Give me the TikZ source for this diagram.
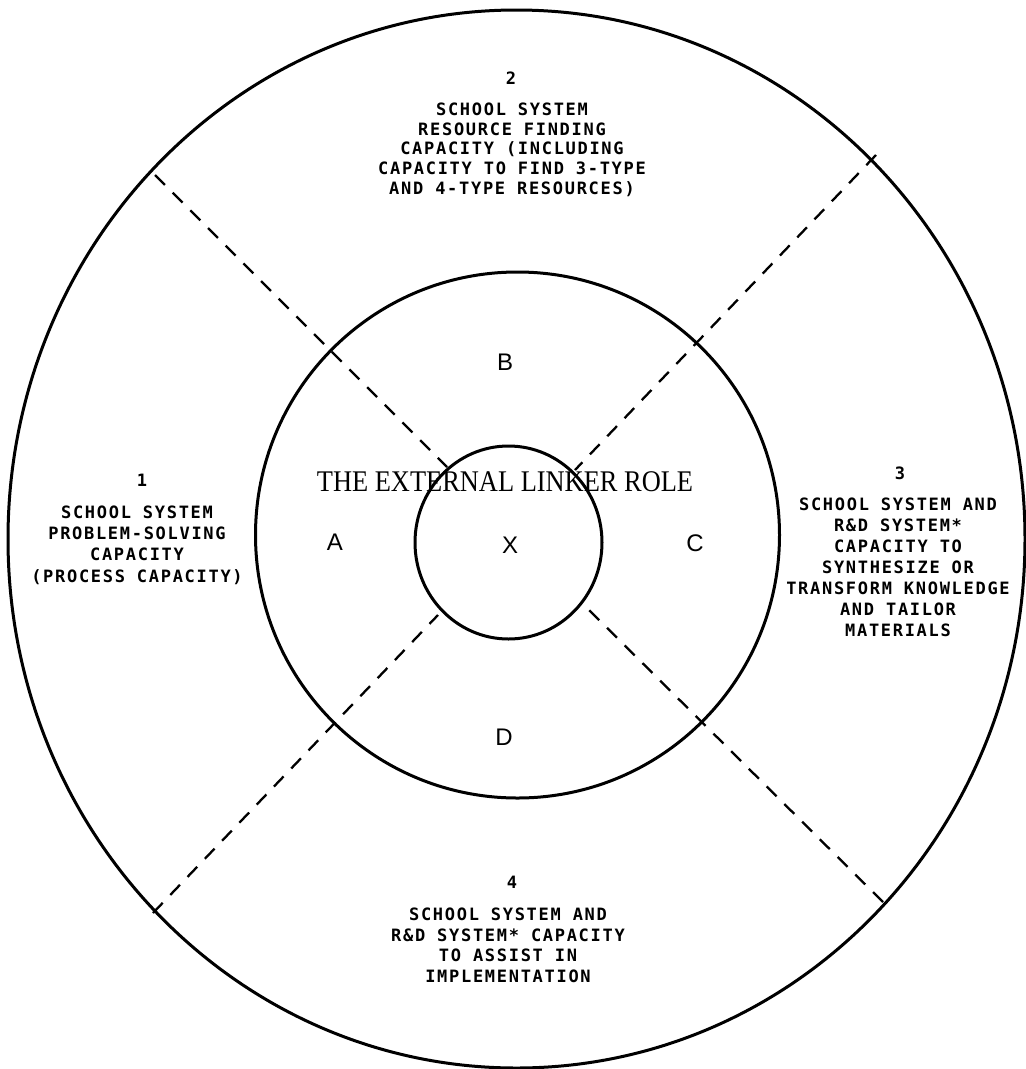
\documentclass[tikz,border=0pt]{standalone}
\usepackage{fontspec}
\usepackage{graphicx}
\usetikzlibrary{shapes.geometric}
\newfontfamily\twfont[LetterSpace=10]{DejaVu Sans Mono}
\newfontfamily\lsansfont{Liberation Sans}
\newfontfamily\lseriffont{Liberation Serif}
\tikzset{
  ring/.style={draw, ellipse, line width=3pt, inner sep=0pt, outer sep=0pt},
  divider/.style={line width=2.3pt, dash pattern=on 14pt off 11pt},
  capblock/.style={font=\twfont\bfseries\fontsize{17}{20.5}\selectfont, align=center, inner sep=0pt, anchor=north},
  numlabel/.style={font=\twfont\bfseries\fontsize{17}{20}\selectfont, inner sep=0pt},
  letter/.style={font=\lsansfont\fontsize{24}{28}\selectfont, inner sep=0pt},
  roletitle/.style={font=\lseriffont\fontsize{30}{34}\selectfont, inner sep=0pt}
}
\begin{document}
\begin{tikzpicture}[x=1pt,y=-1pt]
\useasboundingbox (0,0) rectangle (1026,1069);
\fill[white] (0,0) rectangle (1026,1069);

% rings
\node[ring, minimum width=1017pt, minimum height=1058pt] (outer) at (516.5,539) {};
\node[ring, minimum width=524pt, minimum height=526pt] (middle) at (517.5,535) {};
\node[ring, minimum width=187pt, minimum height=193pt] (inner) at (508.5,542.5) {};

% divider end points
\coordinate (ulo) at (155,175);  \coordinate (uli) at (447,467);
\coordinate (uro) at (876,155);  \coordinate (uri) at (575,470);
\coordinate (llo) at (153,913);  \coordinate (lli) at (438,615);
\coordinate (lro) at (883,902);  \coordinate (lri) at (587,608);
\draw[divider] (ulo) -- (uli);
\draw[divider] (uro) -- (uri);
\draw[divider] (llo) -- (lli);
\draw[divider] (lro) -- (lri);

% central title and letters
\node[roletitle] (title) at (505,482) {\scalebox{0.88}[1]{THE EXTERNAL LINKER ROLE}};
\node[letter] (lA) at (335,542) {A};
\node[letter] (lB) at (505,362) {B};
\node[letter] (lC) at (695,543) {C};
\node[letter] (lD) at (504,737) {D};
\node[letter] (lX) at (510,545) {X};

% outer blocks
\node[numlabel] (n1) at (142,480) {1};
\node[capblock, font=\twfont\bfseries\fontsize{17}{21.3}\selectfont] (t1) at (137,505.5)
  {SCHOOL SYSTEM\\PROBLEM-SOLVING\\CAPACITY\\(PROCESS CAPACITY)};

\node[numlabel] (n2) at (511,78) {2};
\node[capblock, font=\twfont\bfseries\fontsize{17}{19.75}\selectfont] (t2) at (512,102.5)
  {SCHOOL SYSTEM\\RESOURCE FINDING\\CAPACITY (INCLUDING\\CAPACITY TO FIND 3-TYPE\\AND 4-TYPE RESOURCES)};

\node[numlabel] (n3) at (900,473) {3};
\node[capblock, font=\twfont\bfseries\fontsize{17}{21}\selectfont] (t3) at (898,497.5)
  {SCHOOL SYSTEM AND\\R\&D SYSTEM*\\CAPACITY TO\\SYNTHESIZE OR\\TRANSFORM KNOWLEDGE\\AND TAILOR\\MATERIALS};

\node[numlabel] (n4) at (512,882) {4};
\node[capblock, font=\twfont\bfseries\fontsize{17}{20.7}\selectfont] (t4) at (508,907.5)
  {SCHOOL SYSTEM AND\\R\&D SYSTEM* CAPACITY\\TO ASSIST IN\\IMPLEMENTATION};
\end{tikzpicture}
\end{document}
